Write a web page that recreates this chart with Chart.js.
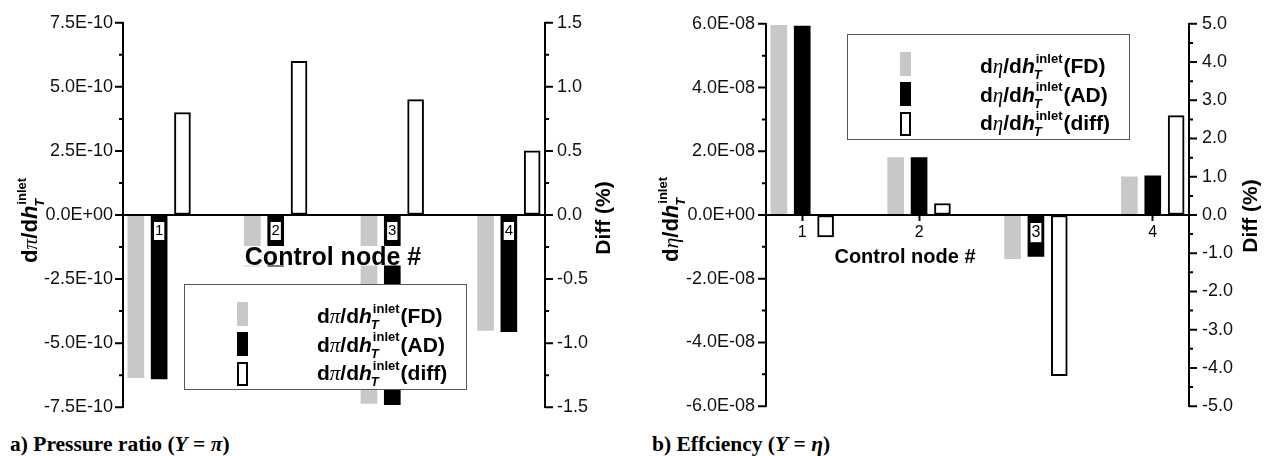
<!DOCTYPE html>
<html>
<head>
<meta charset="utf-8">
<script src="https://cdn.jsdelivr.net/npm/chart.js@4.4.1/dist/chart.umd.min.js"></script>
<style>
  body { margin: 0; background: #fff; }
  #wrap { position: relative; width: 1271px; height: 456px; overflow: hidden; background: #fff; }
  .panel { position: absolute; top: 0; height: 430px; }
  .cap { position: absolute; top: 433px; font: bold 21.5px "Liberation Serif", "Times New Roman", serif; line-height: 22px; white-space: nowrap; color: #000; }
</style>
</head>
<body>
<div id="wrap">
  <div class="panel" style="left:0;width:620px"><canvas id="prChart"></canvas></div>
  <div class="panel" style="left:620px;width:651px"><canvas id="effChart"></canvas></div>
  <div class="cap" style="left:10px">a) Pressure ratio (<i>Y</i> = <i>π</i>)</div>
  <div class="cap" style="left:652px">b) Effciency (<i>Y</i> = <i>η</i>)</div>
</div>
<script>
// control nodes on the x axis
const NODES = [1, 2, 3, 4];
const SERIES = ['FD', 'AD', 'diff'];

// a) pressure ratio
const PR_FD = [-6.35e-10, -2.0e-10, -7.35e-10, -4.5e-10];
const PR_AD = [-6.4e-10, -2.0e-10, -7.4e-10, -4.55e-10];
const PR_DIFF = [0.8, 1.2, 0.9, 0.5];
const PR_TICKS = [-7.5e-10, -5.0e-10, -2.5e-10, 0, 2.5e-10, 5.0e-10, 7.5e-10];
const PR_DIFF_TICKS = [-1.5, -1.0, -0.5, 0, 0.5, 1.0, 1.5];

// b) efficiency
const EFF_FD = [5.95e-8, 1.8e-8, -1.37e-8, 1.2e-8];
const EFF_AD = [5.93e-8, 1.8e-8, -1.3e-8, 1.23e-8];
const EFF_DIFF = [-0.57, 0.3, -4.2, 2.6];
const EFF_TICKS = [-6e-8, -4e-8, -2e-8, 0, 2e-8, 4e-8, 6e-8];
const EFF_DIFF_TICKS = [-5, -4, -3, -2, -1, 0, 1, 2, 3, 4, 5];

const SANS = '"Liberation Sans", Arial, sans-serif';
const SERIF = '"Liberation Serif", "Times New Roman", serif';
const COLORS = { FD: '#c8c8c8', AD: '#000', diff: '#fff' };

function sci(v) {
  if (v === 0) return '0.0E+00';
  const [m, e] = v.toExponential(1).split('e');
  const n = Math.abs(+e);
  return m + 'E' + (+e < 0 ? '-' : '+') + String(n).padStart(2, '0');
}

// d<sym>/dh_T^inlet followed by an optional tail, baseline at y
function drawDeriv(ctx, x, y, sym, size, tail, align) {
  const small = Math.round(size * 0.6);
  const parts = [
    { t: 'd', f: `bold ${size}px ${SANS}` },
    { t: sym, f: `italic ${size}px ${SERIF}` },
    { t: '/d', f: `bold ${size}px ${SANS}` },
    { t: 'h', f: `italic bold ${size}px ${SANS}` },
  ];
  let w = 0;
  parts.forEach(p => { ctx.font = p.f; p.w = ctx.measureText(p.t).width; w += p.w; });
  ctx.font = `italic bold ${small}px ${SANS}`;
  const wT = ctx.measureText('T').width;
  ctx.font = `bold ${small}px ${SANS}`;
  const wIn = ctx.measureText('inlet').width;
  const wScript = Math.max(wT, wIn + 1) + 1;
  let wTail = 0;
  if (tail) { ctx.font = `bold ${size}px ${SANS}`; wTail = ctx.measureText(tail).width; }
  let cx = align === 'center' ? x - (w + wScript + wTail) / 2 : x;
  ctx.textAlign = 'left';
  ctx.textBaseline = 'alphabetic';
  ctx.fillStyle = '#000';
  parts.forEach(p => { ctx.font = p.f; ctx.fillText(p.t, cx, y); cx += p.w; });
  ctx.font = `bold ${small}px ${SANS}`;
  ctx.fillText('inlet', cx + 1, y - size * 0.5);
  ctx.font = `italic bold ${small}px ${SANS}`;
  ctx.fillText('T', cx - 1, y + size * 0.3);
  cx += wScript;
  if (tail) { ctx.font = `bold ${size}px ${SANS}`; ctx.fillText(tail, cx, y); }
}

const decor = {
  id: 'decor',
  afterDraw(chart, args, o) {
    const ctx = chart.ctx;
    ctx.save();
    // y axis tick marks, major and minor
    ctx.strokeStyle = '#000';
    ctx.lineWidth = 2;
    ['y', 'y1'].forEach(id => {
      const s = chart.scales[id];
      const x = id === 'y' ? s.right : s.left;
      const dir = id === 'y' ? -1 : 1;
      const vals = s.ticks.map(t => t.value);
      ctx.beginPath();
      vals.forEach((v, i) => {
        const py = s.getPixelForValue(v);
        ctx.moveTo(x, py); ctx.lineTo(x + dir * 8, py);
        if (i < vals.length - 1) {
          const pm = s.getPixelForValue((v + vals[i + 1]) / 2);
          ctx.moveTo(x, pm); ctx.lineTo(x + dir * 4, pm);
        }
      });
      ctx.stroke();
    });

    // x title
    ctx.font = `bold ${o.xTitle.size}px ${SANS}`;
    const tw = ctx.measureText('Control node #').width;
    if (o.xTitle.backdrop) {
      ctx.fillStyle = '#fff';
      ctx.fillRect(o.xTitle.x - tw / 2 - 1, o.xTitle.y - o.xTitle.size * 0.76, tw + 2, o.xTitle.size * 0.78);
    }
    ctx.fillStyle = '#000';
    ctx.textAlign = 'center';
    ctx.textBaseline = 'alphabetic';
    ctx.fillText('Control node #', o.xTitle.x, o.xTitle.y);

    // legend
    const L = o.legend;
    ctx.fillStyle = '#fff';
    ctx.fillRect(L.x, L.y, 282, 105);
    ctx.strokeStyle = '#555';
    ctx.lineWidth = 1;
    ctx.strokeRect(L.x + 0.5, L.y + 0.5, 282, 105);
    chart.data.datasets.forEach((ds, i) => {
      const sy = L.y + 18 + i * 30;
      ctx.fillStyle = ds.backgroundColor;
      ctx.fillRect(L.x + 53, sy, 11, 24);
      if (ds.borderWidth) {
        ctx.strokeStyle = '#000';
        ctx.lineWidth = 2;
        ctx.strokeRect(L.x + 54, sy + 1, 9, 22);
      }
      drawDeriv(ctx, L.x + 133, L.y + 39 + i * 28.5, o.sym, 21, '(' + ds.label + ')', 'left');
    });

    // left axis title
    ctx.save();
    ctx.translate(o.yTitle.x, o.yTitle.y);
    ctx.rotate(-Math.PI / 2);
    drawDeriv(ctx, 0, 0, o.sym, 22, '', 'center');
    ctx.restore();

    // right axis title
    ctx.save();
    ctx.translate(o.diffTitle.x, o.diffTitle.y);
    ctx.rotate(-Math.PI / 2);
    ctx.font = `bold 21px ${SANS}`;
    ctx.fillStyle = '#000';
    ctx.textAlign = 'center';
    ctx.fillText('Diff (%)', 0, 0);
    ctx.restore();

    ctx.restore();
  }
};

function makeChart(id, fd, ad, diff, yTicks, diffTicks, cfg) {
  const dx = 0.2;
  const series = [fd, ad, diff];
  return new Chart(document.getElementById(id), {
    type: 'bar',
    data: {
      datasets: SERIES.map((name, k) => ({
        label: name,
        data: NODES.map((n, i) => ({ x: n + (k - 1) * dx, y: series[k][i] })),
        yAxisID: name === 'diff' ? 'y1' : 'y',
        backgroundColor: COLORS[name],
        borderColor: '#000',
        borderWidth: name === 'diff' ? 2 : 0,
        borderSkipped: false,
      })),
    },
    options: {
      responsive: true,
      maintainAspectRatio: false,
      animation: false,
      layout: { padding: { top: cfg.top, bottom: cfg.bottom, left: 0, right: 0 } },
      datasets: { bar: { barThickness: 16, grouped: false } },
      plugins: { legend: { display: false }, tooltip: { enabled: false }, decor: cfg },
      scales: {
        x: {
          type: 'linear', position: { y: 0 }, min: 0.69, max: 4.31, offset: false,
          afterBuildTicks: s => { s.ticks = NODES.map(v => ({ value: v })); },
          grid: { drawOnChartArea: false, offset: false, drawTicks: cfg.xTick > 0, tickLength: cfg.xTick, tickWidth: 2, color: '#000', z: 1 },
          border: { display: true, color: '#000', width: 2, z: 1 },
          ticks: {
            z: 1,
            font: { family: SANS, size: cfg.xFont }, color: '#000', padding: cfg.xPad,
            showLabelBackdrop: true, backdropColor: '#fff', backdropPadding: { x: 1, y: 0 },
            maxRotation: 0, autoSkip: false, callback: v => String(v),
          },
        },
        y: {
          position: 'left', min: yTicks[0], max: yTicks[yTicks.length - 1],
          afterBuildTicks: s => { s.ticks = yTicks.map(v => ({ value: v })); },
          afterFit: s => { s.width = cfg.leftW; },
          grid: { drawOnChartArea: false, drawTicks: false },
          border: { display: true, color: '#000', width: 2 },
          ticks: { font: { family: SANS, size: 18 }, color: '#111', padding: cfg.leftPad, callback: v => sci(v) },
        },
        y1: {
          position: 'right', min: diffTicks[0], max: diffTicks[diffTicks.length - 1],
          afterBuildTicks: s => { s.ticks = diffTicks.map(v => ({ value: v })); },
          afterFit: s => { s.width = cfg.rightW; },
          grid: { drawOnChartArea: false, drawTicks: false },
          border: { display: true, color: '#000', width: 2 },
          ticks: { font: { family: SANS, size: 18 }, color: '#111', padding: cfg.rightPad, callback: v => v.toFixed(1) },
        },
      },
    },
    plugins: [decor],
  });
}

makeChart('prChart', PR_FD, PR_AD, PR_DIFF, PR_TICKS, PR_DIFF_TICKS, {
  sym: 'π', top: 20, bottom: 18, leftW: 123, rightW: 75, leftPad: 10, rightPad: 12,
  xTick: 0, xPad: 7, xFont: 15,
  legend: { x: 184, y: 284 },
  xTitle: { x: 333, y: 265, size: 25, backdrop: true },
  yTitle: { x: 37, y: 220 },
  diffTitle: { x: 610, y: 218 },
});

makeChart('effChart', EFF_FD, EFF_AD, EFF_DIFF, EFF_TICKS, EFF_DIFF_TICKS, {
  sym: 'η', top: 19, bottom: 17, leftW: 146, rightW: 82, leftPad: 11, rightPad: 13,
  xTick: 5, xPad: 3, xFont: 16,
  legend: { x: 227, y: 34 },
  xTitle: { x: 285, y: 263, size: 20, backdrop: false },
  yTitle: { x: 58, y: 219 },
  diffTitle: { x: 637, y: 216 },
});
</script>
</body>
</html>
